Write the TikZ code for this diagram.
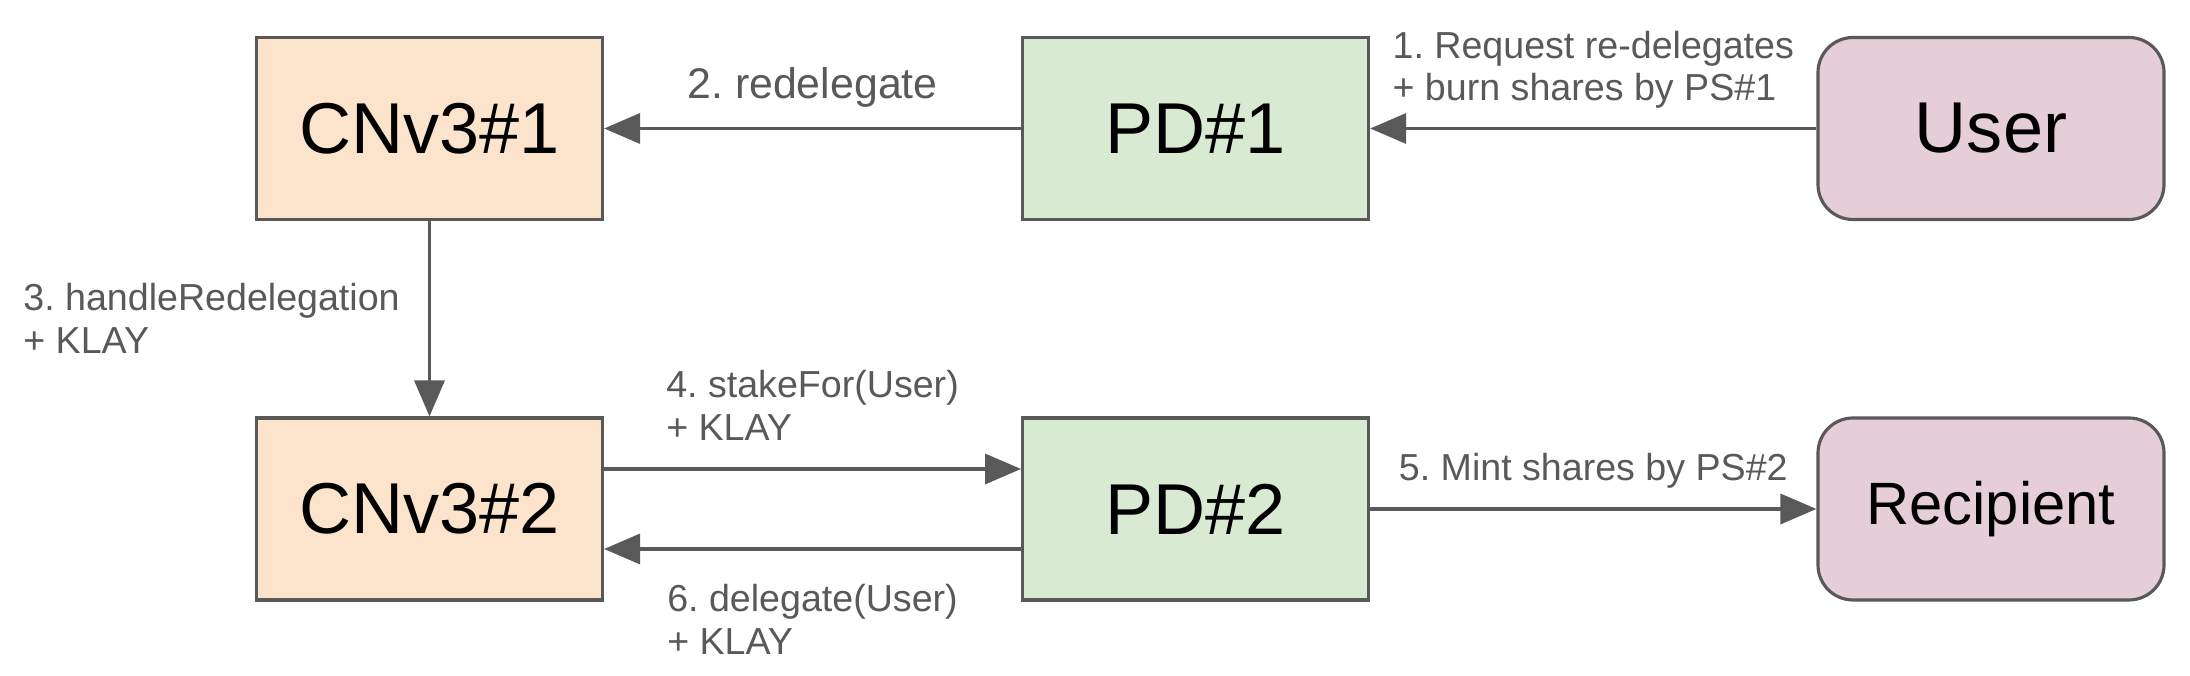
\documentclass[tikz,border=0pt]{standalone}
\usepackage{fontspec}
\setmainfont{Liberation Sans}
\usetikzlibrary{arrows.meta}
\definecolor{edge}{HTML}{595959}
\definecolor{cnfill}{HTML}{FBE3CC}
\definecolor{pdfill}{HTML}{D9EAD3}
\definecolor{usfill}{HTML}{E5CED8}
\frenchspacing

\begin{document}
\begin{tikzpicture}[x=1cm,y=1cm,>={Triangle[length=3.6mm,width=3mm]},
  box/.style={draw=edge,line width=.9pt,minimum width=3.46cm,minimum height=1.82cm,inner sep=0pt,font=\fontsize{20.5}{24}\selectfont},
  cn/.style={box,fill=cnfill},pd/.style={box,fill=pdfill},us/.style={box,fill=usfill,rounded corners=3.5mm},
  flow/.style={->,draw=edge,line width=1pt},
  lab/.style={font=\fontsize{10.7}{12.2}\selectfont,text=edge,align=left,inner sep=0pt}]
\useasboundingbox (0,0) rectangle (21.9,6.76);
% top row
\node[cn] (cn1) at (4.295,5.475){CNv3\#1};
\node[pd] (pd1) at (11.956,5.475){PD\#1};
\node[us] (user) at (19.91,5.475){User};
% bottom row
\node[cn] (cn2) at (4.295,1.67){CNv3\#2};
\node[pd] (pd2) at (11.956,1.67){PD\#2};
\node[us,font=\fontsize{17}{20}\selectfont] (recv) at (19.91,1.67){Recipient};
% calls
\draw[flow] (user)--(pd1) node[lab,midway,above=1.8mm]{1. Request re-delegates\\+ burn shares by PS\#1};
\draw[flow] (pd1)--(cn1) node[lab,midway,above=1.9mm,font=\fontsize{12.2}{14}\selectfont]{2. redelegate};
\draw[flow] (cn1)--(cn2) node[lab,midway,left=2.8mm]{3. handleRedelegation\\+ KLAY};
\draw[flow] ([yshift=4mm]cn2.east)--([yshift=4mm]pd2.west) node[lab,midway,above=2.7mm]{4. stakeFor(User)\\+ KLAY};
\draw[flow] (pd2)--(recv) node[lab,midway,above=1.9mm]{5. Mint shares by PS\#2};
\draw[flow] ([yshift=-4mm]pd2.west)--([yshift=-4mm]cn2.east) node[lab,midway,below=3.4mm]{6. delegate(User)\\+ KLAY};
\end{tikzpicture}
\end{document}
